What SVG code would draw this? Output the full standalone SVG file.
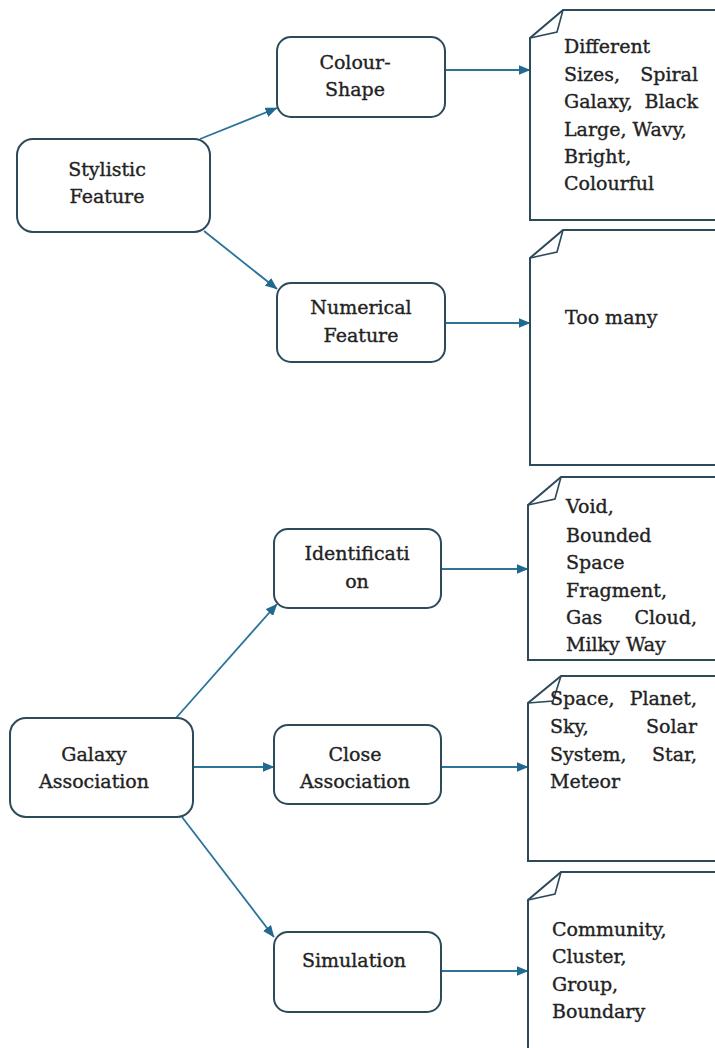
<svg xmlns="http://www.w3.org/2000/svg" width="715" height="1048" viewBox="0 0 715 1048">
  <defs>
    <marker id="arrow" viewBox="0 0 12 10" refX="11.5" refY="5" markerWidth="12" markerHeight="10" markerUnits="userSpaceOnUse" orient="auto">
      <path d="M0,0 L12,5 L0,10 Z" fill="#1f6a8e"/>
    </marker>
  </defs>
  <style>
    .box { fill: #ffffff; stroke: #2c4a5a; stroke-width: 2; }
    .note { fill: #ffffff; stroke: #2c4a5a; stroke-width: 2; stroke-linejoin: miter; }
    .fold { fill: none; stroke: #2c4a5a; stroke-width: 1.6; }
    .edge { fill: none; stroke: #2a7399; stroke-width: 1.8; marker-end: url(#arrow); }
    text { font-family: "DejaVu Serif", "Liberation Serif", serif; font-size: 19px; fill: #222222; stroke: #222222; stroke-width: 0.35px; }
    .c { text-anchor: middle; }
    .r { text-anchor: end; }
  </style>
  <rect width="715" height="1048" fill="#ffffff"/>

  <!-- connectors -->
  <g id="connectors">
    <line class="edge" x1="200" y1="139" x2="277" y2="108"/>
    <line class="edge" x1="204" y1="231" x2="277" y2="289"/>
    <line class="edge" x1="445" y1="70" x2="530" y2="70"/>
    <line class="edge" x1="445" y1="323" x2="530" y2="323"/>
    <line class="edge" x1="176" y1="718" x2="277" y2="604"/>
    <line class="edge" x1="193" y1="767" x2="274" y2="767"/>
    <line class="edge" x1="182" y1="817" x2="274" y2="937"/>
    <line class="edge" x1="441" y1="569" x2="528" y2="569"/>
    <line class="edge" x1="441" y1="767" x2="528" y2="767"/>
    <line class="edge" x1="441" y1="971" x2="528" y2="971"/>
  </g>

  <!-- main categories -->
  <g id="stylistic-feature">
    <rect class="box" x="17" y="139" width="193" height="93" rx="16"/>
    <text class="c" x="107" y="176">Stylistic</text>
    <text class="c" x="107" y="203">Feature</text>
  </g>
  <g id="galaxy-association">
    <rect class="box" x="10" y="718" width="183" height="99" rx="16"/>
    <text class="c" x="94" y="761">Galaxy</text>
    <text class="c" x="94" y="788">Association</text>
  </g>

  <!-- sub-categories -->
  <g id="colour-shape">
    <rect class="box" x="277" y="37" width="168" height="80" rx="14"/>
    <text class="c" x="355" y="69">Colour-</text>
    <text class="c" x="355" y="96">Shape</text>
  </g>
  <g id="numerical-feature">
    <rect class="box" x="277" y="283" width="168" height="79" rx="14"/>
    <text class="c" x="361" y="314">Numerical</text>
    <text class="c" x="361" y="342">Feature</text>
  </g>
  <g id="identification">
    <rect class="box" x="274" y="529" width="167" height="79" rx="14"/>
    <text class="c" x="357" y="560">Identificati</text>
    <text class="c" x="357" y="588">on</text>
  </g>
  <g id="close-association">
    <rect class="box" x="274" y="725" width="167" height="79" rx="14"/>
    <text class="c" x="355" y="761">Close</text>
    <text class="c" x="355" y="788">Association</text>
  </g>
  <g id="simulation">
    <rect class="box" x="274" y="932" width="167" height="80" rx="14"/>
    <text class="c" x="354" y="967">Simulation</text>
  </g>

  <!-- example notes -->
  <g id="note-colour-shape">
    <path class="note" d="M563,10 H722 V220 H530 V38 Z"/>
    <path class="fold" d="M530,38 L557,32 L563,10"/>
    <text x="564" y="53">Different</text>
    <text x="564" y="81">Sizes,</text><text class="r" x="698" y="81">Spiral</text>
    <text x="564" y="108">Galaxy,</text><text class="r" x="698" y="108">Black</text>
    <text x="564" y="136">Large, Wavy,</text>
    <text x="564" y="163">Bright,</text>
    <text x="564" y="190">Colourful</text>
  </g>
  <g id="note-numerical">
    <path class="note" d="M563,230 H722 V465 H530 V258 Z"/>
    <path class="fold" d="M530,258 L557,252 L563,230"/>
    <text x="565" y="324">Too many</text>
  </g>
  <g id="note-identification">
    <path class="note" d="M561,477 H722 V660 H528 V505 Z"/>
    <path class="fold" d="M528,505 L555,499 L561,477"/>
    <text x="566" y="513">Void,</text>
    <text x="566" y="542">Bounded</text>
    <text x="566" y="569">Space</text>
    <text x="566" y="597">Fragment,</text>
    <text x="566" y="624">Gas</text><text class="r" x="697" y="624">Cloud,</text>
    <text x="566" y="651">Milky Way</text>
  </g>
  <g id="note-close-association">
    <path class="note" d="M561,676 H722 V861 H528 V703 Z"/>
    <path class="fold" d="M528,703 L553,701 L561,676"/>
    <text x="550" y="705">Space,</text><text class="r" x="697" y="705">Planet,</text>
    <text x="550" y="733">Sky,</text><text class="r" x="697" y="733">Solar</text>
    <text x="550" y="761">System,</text><text class="r" x="697" y="761">Star,</text>
    <text x="550" y="788">Meteor</text>
  </g>
  <g id="note-simulation">
    <path class="note" d="M561,872 H722 V1060 H528 V900 Z"/>
    <path class="fold" d="M528,900 L555,894 L561,872"/>
    <text x="552" y="936">Community,</text>
    <text x="552" y="963">Cluster,</text>
    <text x="552" y="991">Group,</text>
    <text x="552" y="1018">Boundary</text>
  </g>
</svg>
